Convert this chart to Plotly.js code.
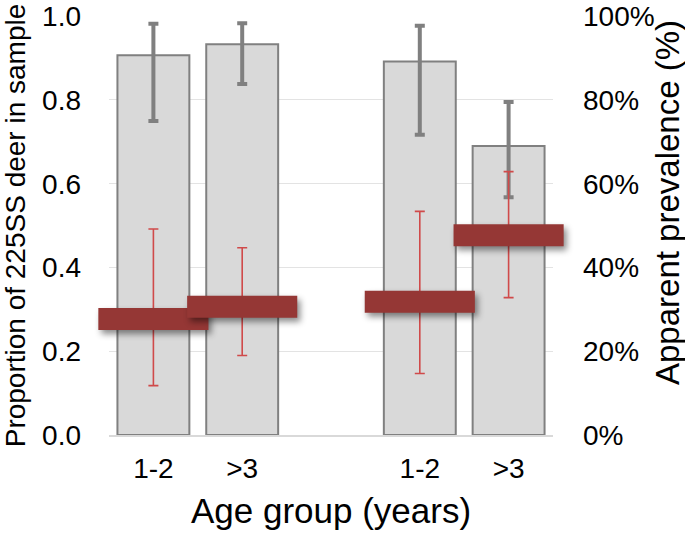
<!DOCTYPE html>
<html>
<head>
<meta charset="utf-8">
<script src="https://cdn.plot.ly/plotly-3.0.1.min.js"></script>
<style>
  html, body { margin: 0; padding: 0; background: #fff; }
  #chart { width: 685px; height: 533px; }
  .errorbars path.xerror { filter: drop-shadow(3px 4px 3px rgba(0,0,0,0.45)); }
</style>
</head>
<body>
<div id="chart"></div>
<script>
// ---- data ----
const positions   = [0, 1, 3, 4];            // two groups of two age classes
const ageLabels   = ['1-2', '>3', '1-2', '>3'];

// grey bars: proportion of 225SS deer in sample (left axis)
const proportion      = [0.907, 0.933, 0.892, 0.690];
const proportionUpper = [0.982, 0.983, 0.977, 0.795];
const proportionLower = [0.750, 0.838, 0.717, 0.568];

// red markers: apparent prevalence % (right axis)
const prevalence      = [27.7, 30.6, 31.8, 47.7];
const prevalenceUpper = [49.2, 44.7, 53.4, 62.9];
const prevalenceLower = [11.8, 19.0, 14.7, 32.8];

const leftTicks  = [0, 0.2, 0.4, 0.6, 0.8, 1.0];
const rightTicks = [0, 20, 40, 60, 80, 100];

const FONT = '"Liberation Sans", Arial, Helvetica, sans-serif';

const bars = {
  type: 'bar',
  x: positions,
  y: proportion,
  width: 0.81,
  marker: { color: '#d9d9d9', line: { color: '#808080', width: 2 } },
  error_y: {
    type: 'data', symmetric: false,
    array: proportion.map((v, i) => proportionUpper[i] - v),
    arrayminus: proportion.map((v, i) => v - proportionLower[i]),
    color: '#808080', thickness: 4, width: 5
  },
  hoverinfo: 'skip',
  showlegend: false
};

const prev = {
  type: 'scatter',
  mode: 'markers',
  x: positions,
  y: prevalence,
  yaxis: 'y2',
  marker: { size: 1, color: 'rgba(0,0,0,0)' },
  error_y: {
    type: 'data', symmetric: false,
    array: prevalence.map((v, i) => prevalenceUpper[i] - v),
    arrayminus: prevalence.map((v, i) => v - prevalenceLower[i]),
    color: '#d04a4a', thickness: 1.6, width: 5
  },
  error_x: { type: 'constant', value: 0.62, color: '#953735', thickness: 22, width: 0 },
  cliponaxis: false,
  hoverinfo: 'skip',
  showlegend: false
};

const layout = {
  width: 685, height: 533,
  margin: { l: 109, r: 132, t: 16, b: 98 },
  paper_bgcolor: '#fff', plot_bgcolor: '#fff',
  font: { family: FONT, color: '#000', size: 28 },
  showlegend: false,
  xaxis: {
    range: [-0.5, 4.5],
    tickvals: positions, ticktext: ageLabels,
    ticks: '', ticklabelstandoff: 7,
    tickfont: { size: 28 },
    showgrid: false, zeroline: false,
    showline: true, linecolor: '#d9d9d9', linewidth: 2,
    title: { text: 'Age group (years)', font: { size: 35 }, standoff: 16 }
  },
  yaxis: {
    range: [0, 1.0005], tickmode: 'array', tickvals: leftTicks,
    ticktext: leftTicks.map(v => v.toFixed(1)),
    ticks: '', ticklabelstandoff: 27, ticklabeloverflow: 'allow',
    tickfont: { size: 28 },
    showgrid: true, gridcolor: '#e3e3e3', gridwidth: 1,
    zeroline: false, showline: false,
    title: { text: 'Proportion of 225SS deer in sample', font: { size: 28 }, standoff: 12 }
  },
  yaxis2: {
    overlaying: 'y', side: 'right',
    range: [0, 100.05], tickmode: 'array', tickvals: rightTicks,
    ticktext: rightTicks.map(v => v + '%'),
    ticks: '', ticklabelstandoff: 29, ticklabeloverflow: 'allow',
    tickfont: { size: 28 },
    showgrid: false, zeroline: false, showline: false
  },
  annotations: [{
    text: 'Apparent prevalence (%)',
    xref: 'paper', yref: 'paper',
    x: 1.258, y: 0.555, xanchor: 'center', yanchor: 'middle',
    textangle: -90, showarrow: false,
    font: { size: 33, family: FONT, color: '#000' }
  }],
  bargap: 0
};

Plotly.newPlot('chart', [bars, prev], layout, { staticPlot: true, displayModeBar: false })
  .then(() => {
    // let the prevalence markers overhang the plot area, as in the original
    document.querySelectorAll('#chart .cartesianlayer [clip-path]').forEach(g => g.removeAttribute('clip-path'));
  });
</script>
</body>
</html>
